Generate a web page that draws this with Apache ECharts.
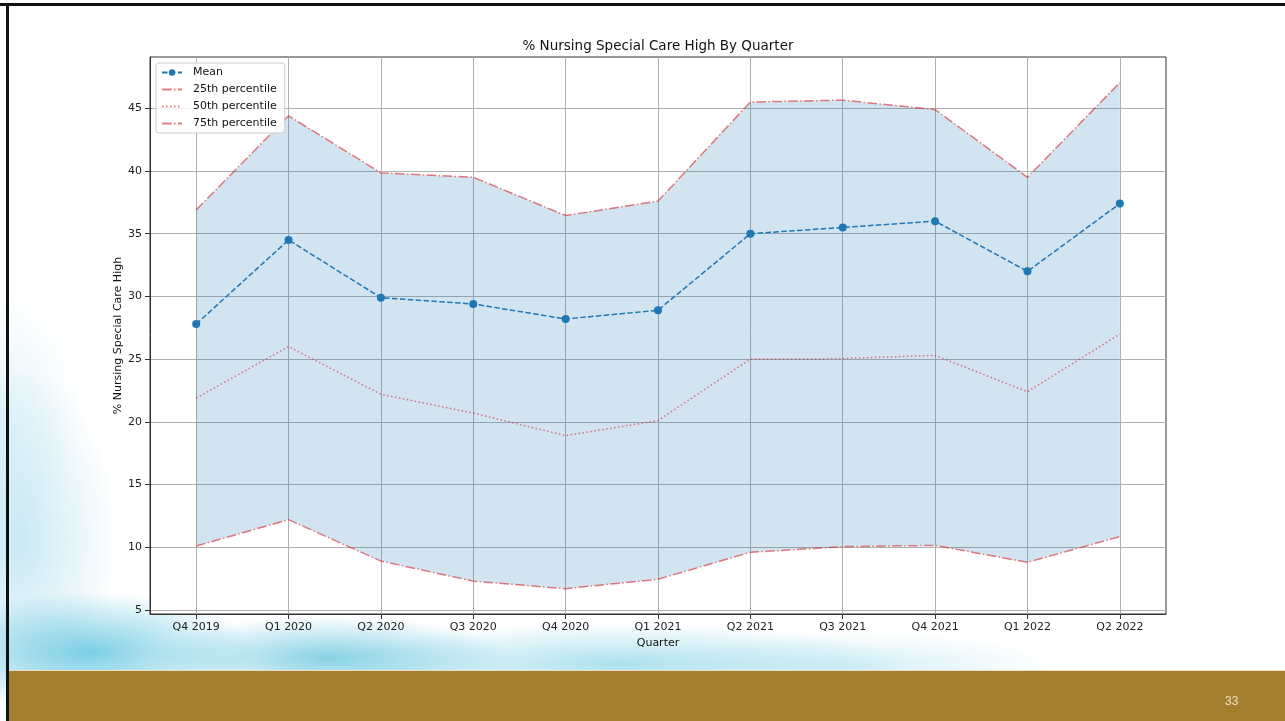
<!DOCTYPE html>
<html>
<head>
<meta charset="utf-8">
<script src="https://cdn.jsdelivr.net/npm/echarts@6/dist/echarts.min.js"></script>
<style>
html,body{margin:0;padding:0;width:1285px;height:721px;overflow:hidden;background:#fff;}
#bg{position:absolute;left:0;top:0;width:1285px;height:721px;
 background:
  radial-gradient(ellipse 260px 60px at 330px 658px, rgba(70,185,215,0.65), rgba(70,185,215,0) 70%),
  radial-gradient(ellipse 220px 80px at 90px 652px, rgba(80,190,220,0.75), rgba(80,190,220,0) 75%),
  radial-gradient(ellipse 380px 55px at 620px 664px, rgba(90,195,222,0.5), rgba(90,195,222,0) 75%),
  radial-gradient(ellipse 260px 45px at 860px 666px, rgba(120,205,228,0.3), rgba(120,205,228,0) 75%),
  radial-gradient(ellipse 130px 230px at 20px 540px, rgba(120,200,225,0.4), rgba(120,200,225,0) 75%),
  radial-gradient(ellipse 110px 160px at 0px 410px, rgba(170,220,235,0.3), rgba(170,220,235,0) 75%),
  #ffffff;}
#gold{position:absolute;left:9px;top:670px;width:1276px;height:51px;background:#a4802e;border-top:1px solid #eadfc6;}
#frameTop{position:absolute;left:0;top:3px;width:1285px;height:3px;background:#111;}
#frameLeft{position:absolute;left:6px;top:3px;width:3px;height:718px;background:#111;}
#chart{position:absolute;left:0;top:0;width:1285px;height:721px;}
</style>
</head>
<body>
<div id="bg"></div>
<div id="gold"></div>
<div id="frameTop"></div>
<div id="frameLeft"></div>
<div id="chart"></div>
<script>
// ---- data ----
const categories = ['Q4 2019','Q1 2020','Q2 2020','Q3 2020','Q4 2020','Q1 2021','Q2 2021','Q3 2021','Q4 2021','Q1 2022','Q2 2022'];
const meanValues = [27.8, 34.5, 29.9, 29.4, 28.2, 28.9, 35.0, 35.5, 36.0, 32.0, 37.4];
const p25Values  = [10.1, 12.2, 8.9, 7.3, 6.7, 7.45, 9.6, 10.05, 10.15, 8.8, 10.85];
const p50Values  = [21.9, 26.0, 22.2, 20.7, 18.9, 20.1, 25.0, 25.05, 25.3, 22.4, 27.0];
const p75Values  = [36.9, 44.4, 39.85, 39.5, 36.45, 37.6, 45.5, 45.65, 44.9, 39.5, 47.05];
const yTicks = [5, 10, 15, 20, 25, 30, 35, 40, 45];
const yMin = 4.68;
const yMax = 49.09;
const titleText = '% Nursing Special Care High By Quarter';
const xName = 'Quarter';
const yName = '% Nursing Special Care High';
const pageNumber = '33';
const seriesNames = ['Mean', '25th percentile', '50th percentile', '75th percentile'];

// band between 25th and 75th (stack helper built from the arrays)
const bandValues = p75Values.map((v, i) => v - p25Values[i]);

const FONT = 'DejaVu Sans';
const RED = 'rgba(214,39,40,0.6)';
const BLUE = '#1f77b4';
const dashDot = [9.6, 2.4, 1.5, 2.4];

const chart = echarts.init(document.getElementById('chart'), null, {renderer: 'canvas'});
const noSym = {opacity: 0};
const option = {
  backgroundColor: 'transparent',
  animation: false,
  title: {
    text: titleText, left: 658, top: 39, padding: 0, textAlign: 'center',
    textStyle: {fontFamily: FONT, fontSize: 13.5, fontWeight: 'normal', color: '#111'}
  },
  grid: {
    left: 150, top: 57, width: 1016, height: 557,
    show: true, backgroundColor: '#ffffff', borderColor: '#333', borderWidth: 1
  },
  legend: {
    data: [
      {name: seriesNames[0]},
      {name: seriesNames[1], itemStyle: noSym},
      {name: seriesNames[2], itemStyle: noSym},
      {name: seriesNames[3], itemStyle: noSym}
    ],
    orient: 'vertical', left: 156, top: 63,
    padding: [3, 8, 3, 5],
    itemWidth: 20, itemHeight: 8, itemGap: 4,
    backgroundColor: 'rgba(255,255,255,0.85)',
    borderColor: '#cccccc', borderWidth: 1, borderRadius: 3,
    textStyle: {fontFamily: FONT, fontSize: 11, color: '#111', lineHeight: 13, padding: [0, 0, 0, 6]},
    selectedMode: false
  },
  xAxis: {
    type: 'category', data: categories, boundaryGap: true,
    name: xName, nameLocation: 'middle', nameGap: 23,
    nameTextStyle: {fontFamily: FONT, fontSize: 11, color: '#111'},
    axisLine: {show: true, lineStyle: {color: '#333', width: 1}},
    axisTick: {show: true, alignWithLabel: true, length: 5, lineStyle: {color: '#333'}},
    axisLabel: {interval: 0, margin: 8, fontFamily: FONT, fontSize: 11, color: '#222'},
    splitLine: {show: true, alignWithLabel: true, interval: 0, lineStyle: {color: '#b0b0b0', width: 1}}
  },
  yAxis: {
    type: 'value', min: yMin, max: yMax,
    name: yName, nameLocation: 'middle', nameGap: 26, nameMoveOverlap: false,
    nameTextStyle: {fontFamily: FONT, fontSize: 11, color: '#111'},
    axisLine: {show: true, lineStyle: {color: '#333', width: 1}},
    axisTick: {show: true, length: 5, customValues: yTicks, lineStyle: {color: '#333'}},
    axisLabel: {customValues: yTicks, margin: 8, fontFamily: FONT, fontSize: 11, color: '#222'},
    splitLine: {show: true, lineStyle: {color: '#b0b0b0', width: 1}}
  },
  series: [
    {
      name: seriesNames[1], type: 'line', data: p25Values, stack: 'iqr',
      symbol: 'none', z: 3,
      itemStyle: {color: RED},
      lineStyle: {color: RED, width: 1.5, type: dashDot}
    },
    {
      name: 'band', type: 'line', data: bandValues, stack: 'iqr',
      symbol: 'none', z: 1, silent: true,
      lineStyle: {width: 0, opacity: 0},
      areaStyle: {color: 'rgba(31,119,180,0.2)', opacity: 1}
    },
    {
      name: seriesNames[2], type: 'line', data: p50Values,
      symbol: 'none', z: 3,
      itemStyle: {color: RED},
      lineStyle: {color: RED, width: 1.5, type: [1.5, 2.5]}
    },
    {
      name: seriesNames[3], type: 'line', data: p75Values,
      symbol: 'none', z: 3,
      itemStyle: {color: RED},
      lineStyle: {color: RED, width: 1.5, type: dashDot}
    },
    {
      name: seriesNames[0], type: 'line', data: meanValues,
      symbol: 'circle', symbolSize: 8, z: 5,
      itemStyle: {color: BLUE},
      lineStyle: {color: BLUE, width: 1.5, type: [5.5, 2.4]}
    }
  ],
  graphic: [
    {
      type: 'text', left: 1225, top: 696,
      style: {text: pageNumber, fill: '#eadfc6', font: '12px "Liberation Sans Narrow", "Liberation Sans", sans-serif'}
    }
  ]
};
chart.setOption(option);
</script>
</body>
</html>
